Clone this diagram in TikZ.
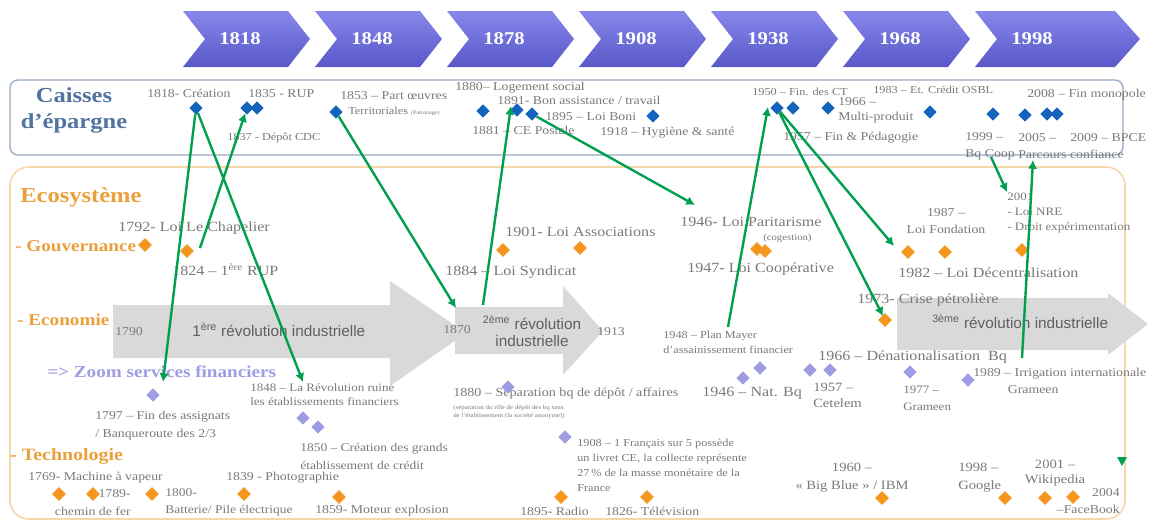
\documentclass[tikz,border=0pt]{standalone}
\usepackage{fontspec}
\setmainfont{Liberation Serif}[FakeStretch=1.15]
\newfontfamily\arrowfont{Liberation Sans}
\usetikzlibrary{shapes.geometric}
\usetikzlibrary{arrows.meta}

\definecolor{cblue}{RGB}{20,100,190}
\definecolor{eorange}{RGB}{245,150,30}
\definecolor{zlav}{RGB}{160,156,228}
\definecolor{lgreen}{RGB}{0,160,80}
\definecolor{txtgrey}{RGB}{122,122,122}
\definecolor{ctitle}{RGB}{80,115,160}
\definecolor{etitle}{RGB}{235,160,60}
\definecolor{cframe}{RGB}{150,170,195}
\definecolor{eframe}{RGB}{245,215,170}
\definecolor{chevtop}{RGB}{135,135,235}
\definecolor{chevbot}{RGB}{88,88,200}
\definecolor{grarrow}{RGB}{217,217,217}
\definecolor{grtext}{RGB}{95,95,95}

\tikzset{
  chev/.style={top color=chevtop, bottom color=chevbot},
  yearlab/.style={text=white, font=\fontsize{13.5}{15}\selectfont\bfseries, inner sep=0pt},
  lab/.style={anchor=west, inner sep=0pt, text=txtgrey, font=\fontsize{9}{11}\selectfont},
  labm/.style={lab, font=\fontsize{10.5}{12}\selectfont},
  labs/.style={lab, font=\fontsize{8}{11.25}\selectfont},
  ehead/.style={anchor=west, inner sep=0pt, text=etitle, font=\fontsize{12.5}{14}\selectfont\bfseries},
  rev/.style={anchor=west, inner sep=0pt, text=grtext, font=\arrowfont\fontsize{11.5}{13}\selectfont},
  cdiam/.style={diamond, fill=cblue, inner sep=0pt, minimum size=10pt},
  ediam/.style={diamond, fill=eorange, inner sep=0pt, minimum size=10.5pt},
  zdiam/.style={diamond, fill=zlav, inner sep=0pt, minimum size=10pt},
  link/.style={draw=lgreen, line width=1.8pt, -{Latex[length=6.5pt,width=7pt]}}
}

\begin{document}
\begin{tikzpicture}[x=0.75pt,y=-0.75pt]
\useasboundingbox (0,0) rectangle (1158,522);
\fill[white] (0,0) rectangle (1158,522);

\foreach \yr [count=\i from 0] in {1818,1848,1878,1908,1938,1968} {
  \pgfmathsetmacro{\L}{183+132*\i}
  \shade[chev] (\L,11) -- ++(105,0) -- ++(22,28) -- ++(-22,28) -- ++(-105,0) -- ++(22,-28) -- cycle;
  \node[yearlab] (y\yr) at (\L+57,39) {\yr};
}
\shade[chev] (975,11) -- (1115,11) -- (1140,39) -- (1115,67) -- (975,67) -- (997,39) -- cycle;
\node[yearlab] (y1998) at (1032,39) {1998};

\draw[cframe, line width=1pt, rounded corners=6pt] (10,80) rectangle (1123,155);
\draw[eframe, line width=1.2pt, rounded corners=14pt] (10,167) rectangle (1125,519);

\fill[grarrow] (113,305) -- (390,305) -- (390,281) -- (466,333) -- (390,386) -- (390,358) -- (113,358) -- cycle;
\fill[grarrow] (455,307) -- (563,307) -- (563,286) -- (603,331) -- (563,375) -- (563,354) -- (455,354) -- cycle;
\fill[grarrow] (897,298) -- (1108,298) -- (1108,293) -- (1148,324) -- (1108,355) -- (1108,350) -- (897,350) -- cycle;

\node[align=center, inner sep=0pt, text=ctitle, font=\fontsize{16}{19.5}\selectfont\bfseries] (tcaisses) at (74,110) {Caisses\\d’épargne};
\node[lab] (l1818) at (147,93) {1818- Création};
\node[lab] (l1835) at (248,94) {1835 - RUP};
\node[labs] (l1837) at (227,138) {1837 - Dépôt CDC};
\node[lab] (l1853) at (340,96) {1853 – Part œuvres};
\node[labs] (l1853b) at (348,111) {Territoriales {\fontsize{4}{5}\selectfont (Patronage)}};
\node[lab] (l1880) at (455,88) {1880– Logement social};
\node[lab] (l1891) at (497,100) {1891- Bon assistance / travail};
\node[lab] (l1895) at (545,117) {1895 – Loi Boni};
\node[lab] (l1881) at (472,130) {1881 – CE Postale};
\node[lab] (l1918) at (600,133) {1918 – Hygiène \& santé};
\node[labs] (l1950) at (752,92) {1950 – Fin. des CT};
\node[labs] (l1983) at (873,90) {1983 – Et. Crédit OSBL};
\node[lab, align=left] (l1966) at (838,110) {1966 –\\Multi-produit};
\node[lab] (l1957) at (783,138) {1957 – Fin \& Pédagogie};
\node[lab] (l2008) at (1027,95) {2008 – Fin monopole};
\node[lab, align=left, font=\fontsize{9}{12.75}\selectfont] (l1999) at (965,146) {1999 –\\Bq Coop};
\node[lab, align=left, font=\fontsize{9}{12.75}\selectfont] (l2005) at (1018,146) {2005 –\\Parcours confiance};
\node[lab] (l2009) at (1070,138) {2009 – BPCE};

\node[ehead, font=\fontsize{16}{18}\selectfont\bfseries] (teco) at (20,197) {Ecosystème};
\node[labm] (l1792) at (118,228) {1792- Loi Le Chapelier};
\node[ehead] (hgouv) at (15,246) {- Gouvernance};
\node[labm] (l1824) at (172,270) {1824 – 1\textsuperscript{ère} RUP};
\node[labm] (l1901) at (505,232) {1901- Loi Associations};
\node[labm] (l1884) at (445,272) {1884 – Loi Syndicat};
\node[labm] (l1946) at (680,222) {1946- Loi Paritarisme};
\node[lab, font=\fontsize{7}{8}\selectfont] (l1946b) at (763,238) {(cogestion)};
\node[labm] (l1947) at (687,269) {1947- Loi Coopérative};
\node[lab, align=center, anchor=center, font=\fontsize{9}{12.75}\selectfont] (l1987) at (946,221) {1987 –\\Loi Fondation};
\node[lab, align=left, font=\fontsize{8.5}{11.25}\selectfont] (l2001) at (1007,213) {2001\\- Loi NRE\\- Droit expérimentation};
\node[labm] (l1982) at (898,273) {1982 – Loi Décentralisation};
\node[labm] (l1973) at (857,300) {1973- Crise pétrolière};

\node[ehead] (heco) at (17,320) {- Economie};
\node[lab] (l1790) at (115,332) {1790};
\node[rev] (r1) at (192,330) {1\textsuperscript{ère} révolution industrielle};
\node[lab] (l1870) at (443,330) {1870};
\node[rev, align=center, anchor=center] (r2) at (532,331) {\textsuperscript{2ème} révolution\\industrielle};
\node[lab] (l1913) at (597,332) {1913};
\node[rev] (r3) at (932,322) {\textsuperscript{3ème} révolution industrielle};
\node[labs, align=left] (l1948) at (663,342) {1948 – Plan Mayer\\d’assainissement financier};
\node[labm] (l1966b) at (818,357) {1966 – Dénationalisation~~Bq};
\node[anchor=west, inner sep=0pt, text=zlav, font=\fontsize{12.5}{15}\selectfont\bfseries] (hzoom) at (47,372) {=> Zoom services financiers};
\node[lab, align=left, font=\fontsize{9}{13.5}\selectfont] (l1797) at (95,426) {1797 – Fin des assignats\\/ Banqueroute des 2/3};
\node[lab, align=left, font=\fontsize{8.5}{10.5}\selectfont] (l1848) at (250,395) {1848 – La Révolution ruine\\les établissements financiers};
\node[lab, font=\fontsize{9.2}{11}\selectfont] (l1880b) at (453,393) {1880 – Séparation bq de dépôt / affaires};
\node[lab, align=left, font=\fontsize{4.5}{6}\selectfont] (l1880c) at (453,412) {(séparation du rôle de dépôt des bq sans\\de l’établissement (la société anonyme))};
\node[labm] (l1946c) at (702,393) {1946 – Nat. Bq};
\node[lab, align=left, font=\fontsize{9.5}{12}\selectfont] (l1957b) at (813,395) {1957 –\\Cetelem};
\node[lab, align=left, font=\fontsize{8.5}{12.75}\selectfont] (l1977) at (903,398) {1977 –\\Grameen};
\node[lab, align=left, font=\fontsize{9}{12.75}\selectfont] (l1989) at (973,381) {1989 – Irrigation internationale\\\hspace*{26pt}Grameen};
\node[labs, align=left] (l1908) at (577,465) {1908 – 1 Français sur 5 possède\\un livret CE, la collecte représente\\27\,\% de la masse monétaire de la\\France};

\node[ehead, font=\fontsize{13}{14}\selectfont\bfseries] (htech) at (10,456) {- Technologie};
\node[lab, align=left, font=\fontsize{8.8}{13.5}\selectfont] (l1850) at (300,456) {1850 – Création des grands\\établissement de crédit};
\node[lab] (l1769) at (28,478) {1769- Machine à vapeur};
\node[lab, align=right, anchor=east, font=\fontsize{9}{13.5}\selectfont] (l1789) at (131,503) {1789-\\chemin de fer};
\node[lab, align=left, font=\fontsize{8.8}{12.75}\selectfont] (l1800) at (165,502) {1800-\\Batterie/ Pile électrique};
\node[lab] (l1839) at (226,478) {1839 - Photographie};
\node[lab] (l1859) at (315,511) {1859- Moteur explosion};
\node[lab] (l1895b) at (520,511) {1895- Radio};
\node[lab] (l1826) at (605,511) {1826- Télévision};
\node[lab, align=center, anchor=center, font=\fontsize{9.5}{13.5}\selectfont] (l1960) at (852,478) {1960 –\\« Big Blue » / IBM};
\node[lab, align=left, font=\fontsize{9.5}{13.5}\selectfont] (l1998) at (958,478) {1998 –\\Google};
\node[lab, align=center, anchor=center, font=\fontsize{9.5}{11.25}\selectfont] (l2001b) at (1055,473) {2001 –\\Wikipedia};
\node[lab, align=right, anchor=east, font=\fontsize{9}{12.75}\selectfont] (l2004) at (1120,501) {2004\\–FaceBook};

\foreach \n/\x/\y in {1818/196/108, 1835/247/108, 1837/257/108, 1853/336/112, 1880/483/111, 1891/517/110,
  1895/532/114, 1918/653/116, 1950/777/108, 1957/793/108, 1966/828/108, 1983/930/112, 1999/993/114,
  2005/1025/115, 2008/1047/114, 2009/1057/114}
  \node[cdiam] (c\n) at (\x,\y) {};
\foreach \n/\x/\y in {1792/145/245, 1824/187/251, 1884/503/250, 1901/580/248, 1946/757/249, 1947/765/251,
  1982/908/252, 1987/945/252, 2001/1022/250, 1973/885/320}
  \node[ediam] (g\n) at (\x,\y) {};
\foreach \n/\x/\y in {1769/59/494, 1789/93/494, 1800/152/494, 1839/244/494, 1859/339/497, 1895/561/497,
  1826/647/497, 1960/882/498, 1998/1005/498, 2001/1045/498, 2004/1073/497}
  \node[ediam] (t\n) at (\x,\y) {};
\foreach \n/\x/\y in {1797/153/395, 1848/303/418, 1850/318/427, 1880/508/387, 1908/565/437, 1946/743/378,
  1948/760/368, 1957/810/370, 1966/830/370, 1977/910/372, 1989/968/380}
  \node[zdiam] (z\n) at (\x,\y) {};

\coordinate (e1797) at (163,382);
\coordinate (e1848) at (303,382);
\coordinate (s1824) at (200,248);
\coordinate (e1870) at (456,308);
\coordinate (s1884) at (483,305);
\coordinate (e1891) at (511,106);
\coordinate (e1946) at (695,205);
\coordinate (s1948) at (728,327);
\coordinate (e1950) at (768,107);
\coordinate (e1982) at (894,246);
\coordinate (e1973) at (883,316);
\coordinate (s1999) at (991,157);
\coordinate (e2001) at (1007,192);
\coordinate (s1989) at (1022,358);
\coordinate (e2005) at (1033,160);

\draw[link] (c1818) -- (e1797);
\draw[link] (c1818) -- (e1848);
\draw[link] (s1824) -- (c1835);
\draw[link] (c1853) -- (e1870);
\draw[link] (s1884) -- (e1891);
\draw[link] (c1895) -- (e1946);
\draw[link] (s1948) -- (e1950);
\draw[link] (c1950) -- (e1982);
\draw[link] (c1950) -- (e1973);
\draw[link] (s1999) -- (e2001);
\draw[link] (s1989) -- (e2005);
\fill[lgreen] (1117,457) -- (1127,457) -- (1122,466) -- cycle;
\end{tikzpicture}
\end{document}
